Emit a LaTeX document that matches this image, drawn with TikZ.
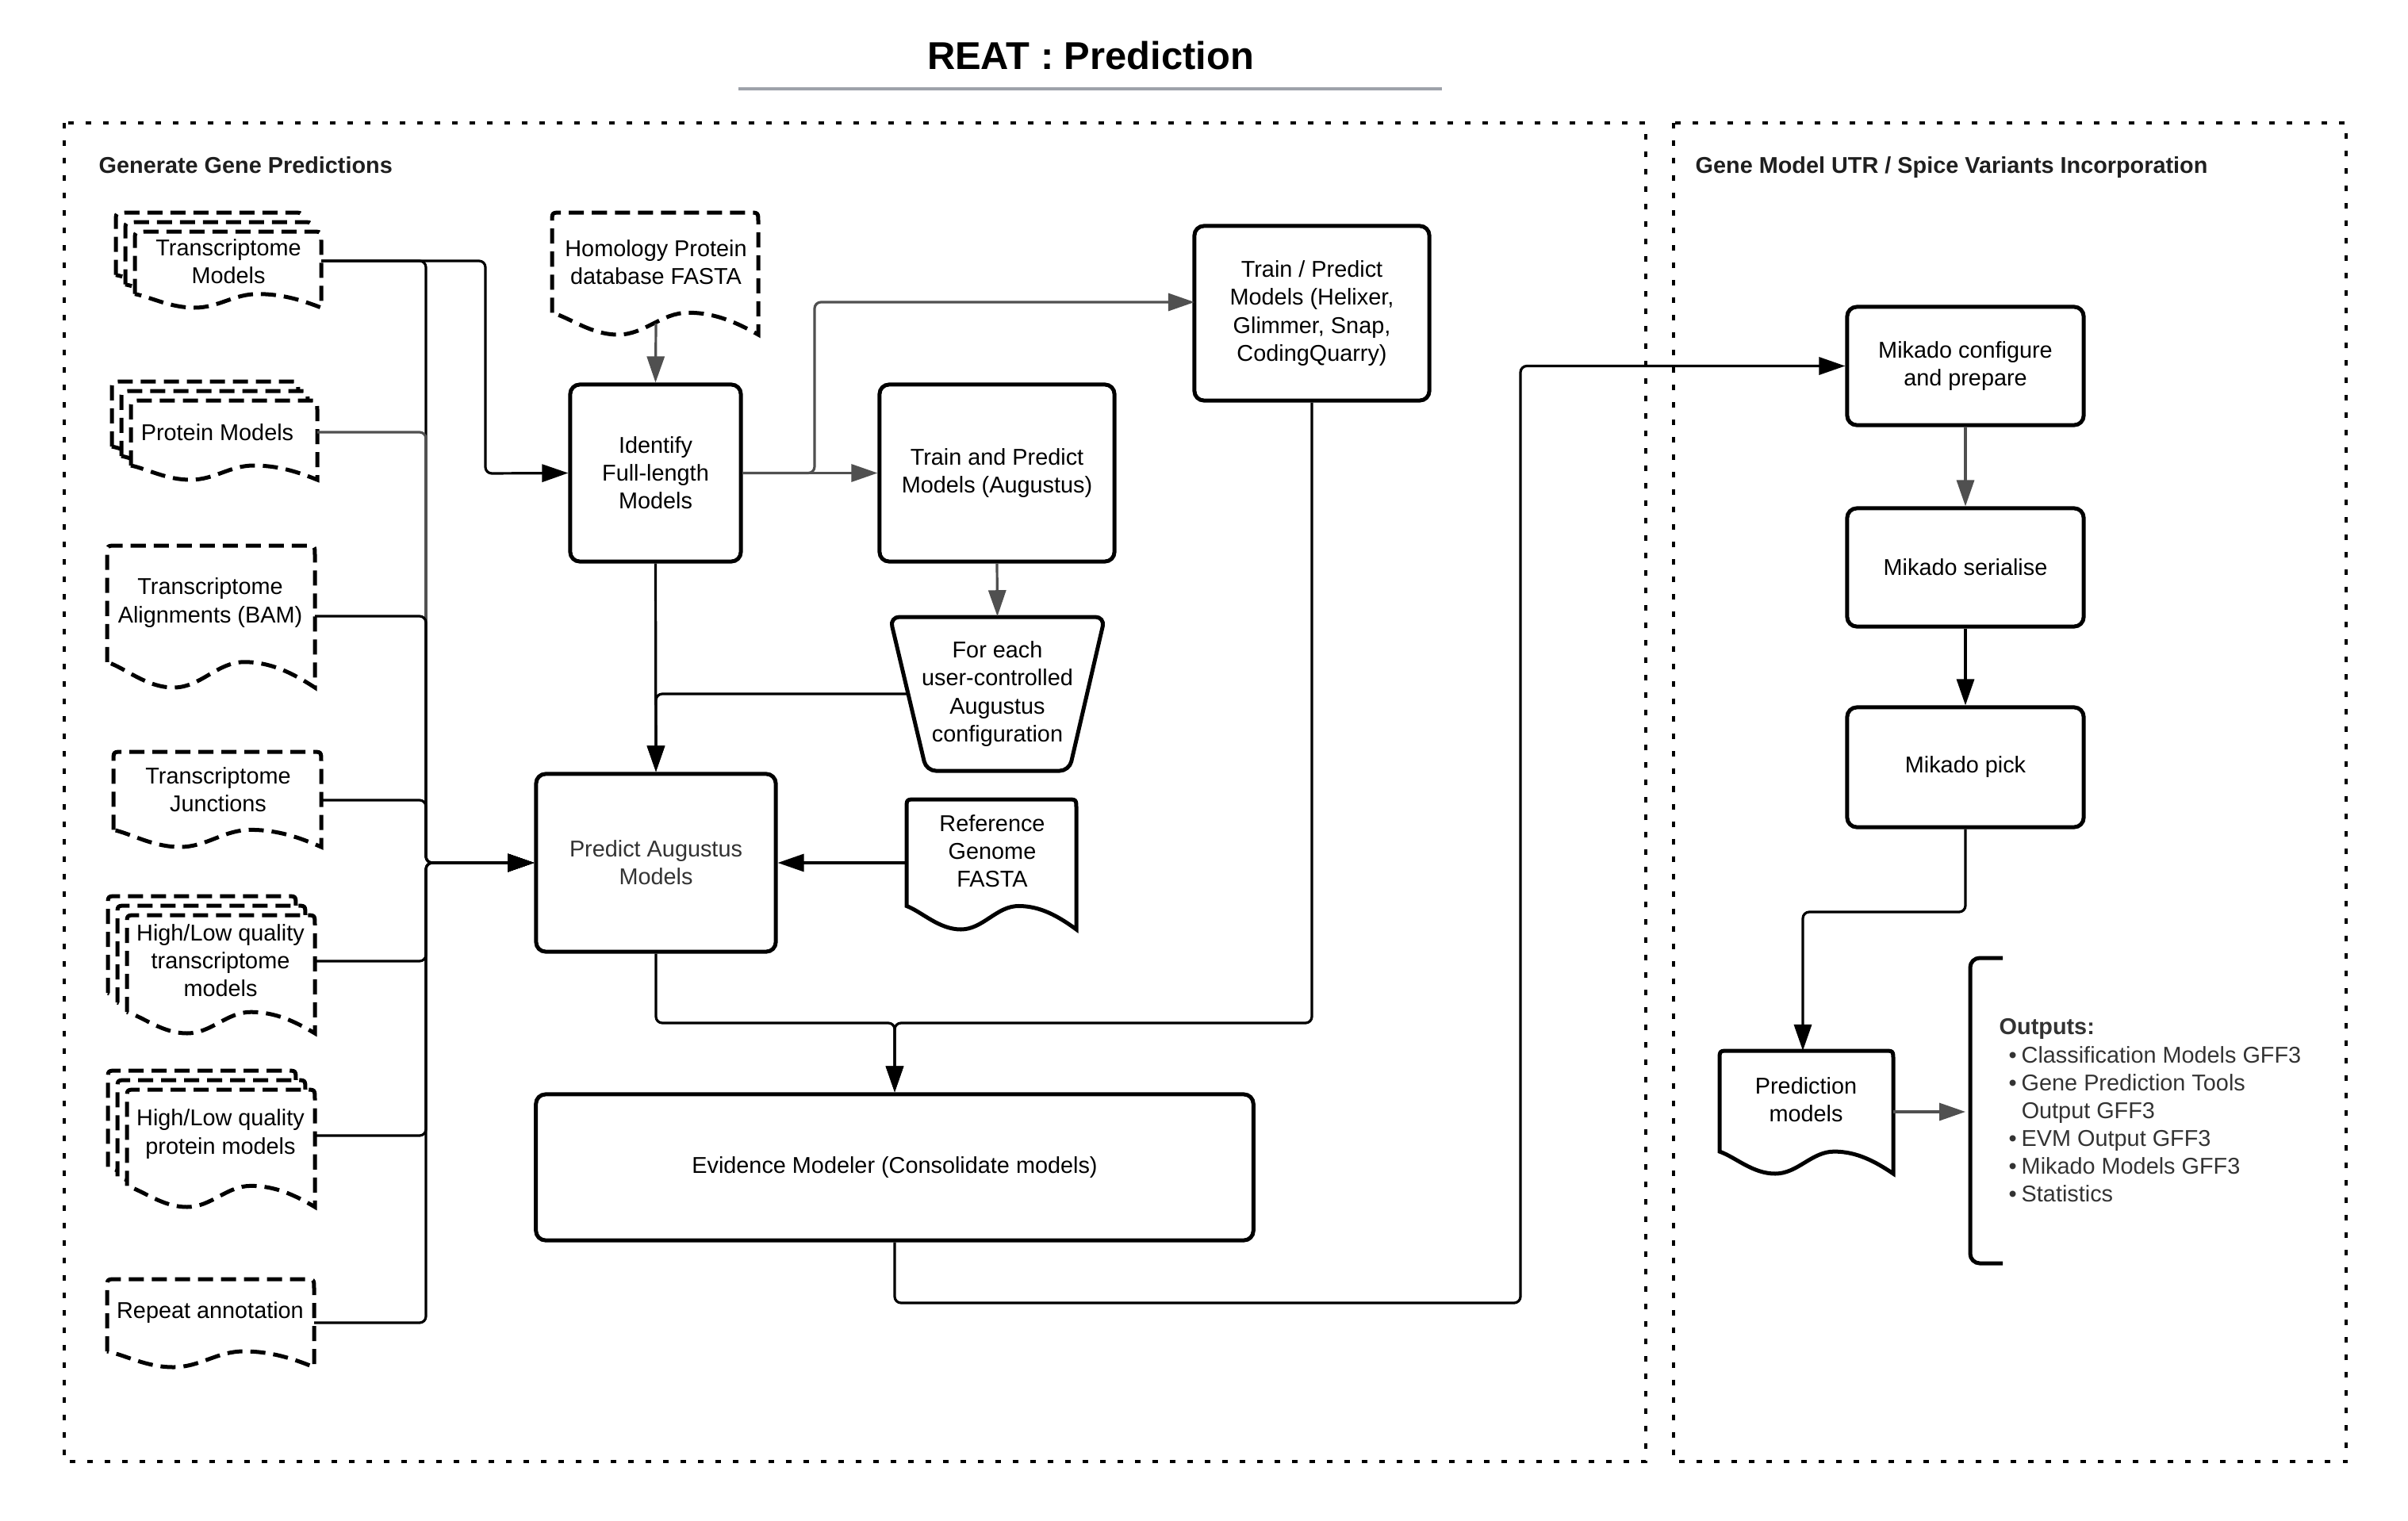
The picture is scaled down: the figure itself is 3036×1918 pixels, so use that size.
\documentclass[tikz,border=0pt]{standalone}
\usepackage{fontspec}
\setmainfont{Liberation Sans}
\usetikzlibrary{arrows.meta,calc}
\definecolor{gline}{HTML}{505050}
\definecolor{tgray}{HTML}{333333}
\definecolor{rulegray}{HTML}{9EA2AA}
\newcommand{\fs}{\fontsize{8.2}{10}\selectfont}
\newcommand{\docshape}[5][]{%
  \pgfmathsetmacro\dxa{#2}\pgfmathsetmacro\dya{#3}\pgfmathsetmacro\dxb{#4}\pgfmathsetmacro\dyb{#5}%
  \pgfmathsetmacro\dA{0.18*(\dyb-\dya)}%
  \pgfmathsetmacro\dw{\dxb-\dxa}%
  \pgfmathsetmacro\dyL{\dyb-\dA}%
  \pgfmathsetmacro\dxc{\dxa+0.66*\dw}%
  \pgfmathsetmacro\dxt{\dxa+0.32*\dw}%
  \pgfmathsetmacro\dd{0.13*\dw}%
  \draw[#1] (\dxa,\dyL) -- (\dxa,\dya+12) .. controls (\dxa,\dya) .. (\dxa+12,\dya)
    -- (\dxb-12,\dya) .. controls (\dxb,\dya) .. (\dxb,\dya+12) -- (\dxb,\dyb)
    .. controls (\dxb-0.8*\dd,\dyb-0.55*\dA) and (\dxc+\dd,\dyL) .. (\dxc,\dyL)
    .. controls (\dxc-\dd,\dyL) and (\dxt+\dd,\dyb) .. (\dxt,\dyb)
    .. controls (\dxt-\dd,\dyb) and (\dxa+0.7*\dd,\dyL+0.25*\dA) .. (\dxa,\dyL) -- cycle;
}
\newcommand{\multidoc}[5][]{%
  \docshape[#1]{(#2)-24}{(#3)-24}{(#4)-24}{(#5)-24}%
  \docshape[#1]{(#2)-12}{(#3)-12}{(#4)-12}{(#5)-12}%
  \docshape[#1]{#2}{#3}{#4}{#5}}
\tikzset{
  dashdoc/.style={draw=black, line width=0.05cm, dash pattern=on 0.19cm off 0.1cm, fill=white},
  soliddoc/.style={draw=black, line width=0.05cm, fill=white},
  txt/.style={align=center, inner sep=0, font=\fs},
  box/.style={draw, line width=0.05cm, rounded corners=0.12cm, align=center, inner sep=0, font=\fs, fill=white},
  region/.style={line width=0.04cm, dash pattern=on 0.07cm off 0.15cm},
  hdr/.style={anchor=base west, inner sep=0, font=\fontsize{8.2}{10}\selectfont\bfseries, text=black!88},
  conn/.style={line width=0.032cm, rounded corners=0.08cm},
  gconn/.style={conn, draw=gline},
  arr/.style={-{Triangle[length=0.33cm,width=0.22cm]}}
}
\begin{document}
\begin{tikzpicture}[x=0.01cm,y=-0.01cm]
\useasboundingbox (0,0) rectangle (3036,1918);

% title
\node[inner sep=0, font=\fontsize{13.9}{16}\selectfont\bfseries] (title) at (1375,70) {REAT : Prediction};
\coordinate (ulA) at (931,112);
\coordinate (ulB) at (1818,112);
\draw[rulegray, line width=0.045cm] (ulA) -- (ulB);

% regions
\draw[region] (81,155) rectangle (2075,1843);
\draw[region] (2110,155) rectangle (2958,1843);
\node[hdr] (h1) at (124,218) {Generate Gene Predictions};
\node[hdr] (h2) at (2137,218) {Gene Model UTR / Spice Variants Incorporation};

% input documents
\multidoc[dashdoc]{170}{292}{405}{388}
\node[txt] (tm) at (288,330) {Transcriptome\\Models};
\multidoc[dashdoc]{165}{505}{400}{605}
\node[txt] (pm) at (274,545) {Protein Models};
\docshape[dashdoc]{135}{688}{397}{867}
\node[txt] (ta) at (265,760) {Transcriptome\\Alignments (BAM)};
\docshape[dashdoc]{143}{948}{405}{1068}
\node[txt] (tj) at (275,996) {Transcriptome\\Junctions};
\multidoc[dashdoc]{160}{1154}{397}{1303}
\node[txt] (hlt) at (278,1211) {High/Low quality\\transcriptome\\models};
\multidoc[dashdoc]{160}{1374}{397}{1522}
\node[txt] (hlp) at (278,1430) {High/Low quality\\protein models};
\docshape[dashdoc]{135}{1613}{396}{1724}
\node[txt] (ra) at (265,1655) {Repeat annotation};

\docshape[dashdoc]{696}{268}{956}{422}
\node[txt] (hom) at (827,331) {Homology Protein\\database FASTA};
\docshape[soliddoc]{1143}{1008}{1357}{1172}
\node[txt] (rg) at (1251,1073) {Reference\\Genome\\FASTA};
\docshape[soliddoc]{2168}{1325}{2387}{1480}
\node[txt] (pred) at (2277,1387) {Prediction\\models};

% anchors on documents
\coordinate (tmOut) at (405,329);
\coordinate (pmOut) at (400,545);
\coordinate (taOut) at (397,777);
\coordinate (tjOut) at (405,1009);
\coordinate (hltOut) at (397,1212);
\coordinate (hlpOut) at (397,1432);
\coordinate (raOut) at (396,1668);
\coordinate (homOut) at (827,408);
\coordinate (rgIn) at (1143,1088);
\coordinate (predIn) at (2273,1325);
\coordinate (predOut) at (2387,1402);

% process boxes
\node[box, minimum width=2.15cm, minimum height=2.23cm] (id) at (826.5,596.5) {Identify\\Full-length\\Models};
\node[box, minimum width=2.96cm, minimum height=2.23cm] (tp) at (1257,596.5) {Train and Predict\\Models (Augustus)};
\node[box, minimum width=2.96cm, minimum height=2.20cm] (hx) at (1654,395) {Train / Predict\\Models (Helixer,\\Glimmer, Snap,\\CodingQuarry)};
\node[box, minimum width=3.02cm, minimum height=2.24cm, text=tgray] (pa) at (827,1088) {Predict Augustus\\Models};
\node[box, minimum width=9.04cm, minimum height=1.84cm] (ev) at (1128,1472) {Evidence Modeler (Consolidate models)};
\node[box, minimum width=2.98cm, minimum height=1.49cm] (mc) at (2478,461.5) {Mikado configure\\and prepare};
\node[box, minimum width=2.98cm, minimum height=1.49cm] (ms) at (2478,715.5) {Mikado serialise};
\node[box, minimum width=2.98cm, minimum height=1.51cm] (mp) at (2478,967.5) {Mikado pick};

% trapezoid
\draw[line width=0.05cm, rounded corners=0.12cm, fill=white] (1122,778) -- (1393,778) -- (1348,972) -- (1168,972) -- cycle;
\node[txt, minimum width=2.71cm, minimum height=1.94cm] (trap) at (1257.5,875) {For each\\user-controlled\\Augustus\\configuration};
\coordinate (trapW) at (1145,875);

% bracket and outputs
\coordinate (brIn) at (2478,1402);
\draw[line width=0.05cm, rounded corners=0.12cm] (2525,1208) -- (2484,1208) -- (2484,1593) -- (2525,1593);
\node[anchor=north west, align=left, inner sep=0, font=\fs, text=tgray] (outs) at (2520,1284) {\textbf{Outputs:}\\
\hspace*{0.12cm}\makebox[0.16cm][l]{•}Classification Models GFF3\\
\hspace*{0.12cm}\makebox[0.16cm][l]{•}Gene Prediction Tools\\
\hspace*{0.28cm}Output GFF3\\
\hspace*{0.12cm}\makebox[0.16cm][l]{•}EVM Output GFF3\\
\hspace*{0.12cm}\makebox[0.16cm][l]{•}Mikado Models GFF3\\
\hspace*{0.12cm}\makebox[0.16cm][l]{•}Statistics};

% bus junction
\coordinate (busJ) at (537,1088);
\coordinate (tmJ) at (612,597);
\coordinate (hxJ) at (1027,381);
\coordinate (hxIn) at (1506,381);
\coordinate (evJ) at (1128,1290);
\coordinate (evB) at (1917,1643);
\coordinate (mpJ) at (2273,1150);

% connectors into Predict Augustus
\draw[conn,arr] (tmOut) -| (busJ) -- (pa.west);
\draw[gconn,arr] (pmOut) -| (busJ) -- (pa.west);
\draw[conn,arr] (taOut) -| (busJ) -- (pa.west);
\draw[conn,arr] (tjOut) -| (busJ) -- (pa.west);
\draw[conn,arr] (hltOut) -| (busJ) -- (pa.west);
\draw[conn,arr] (hlpOut) -| (busJ) -- (pa.west);
\draw[conn,arr] (raOut) -| (busJ) -- (pa.west);
\draw[conn,arr] (tmOut) -| (tmJ) -- (id.west);

\draw[gconn,arr] (homOut) -- (id.north);
\draw[gconn,arr] (id.east) -- (tp.west);
\draw[gconn,arr] (id.east) -| (hxJ) -- (hxIn);
\draw[gconn,arr] (tp.south) -- (trap.north);
\draw[conn,arr] (id.south) -- (pa.north);
\draw[conn,arr] (trapW) -| (pa.north);
\draw[conn,arr] (rgIn) -- (pa.east);

\draw[conn,arr] (pa.south) |- (evJ) -- (ev.north);
\draw[conn,arr] (hx.south) |- (evJ) -- (ev.north);
\draw[conn,arr] (ev.south) |- (evB) |- (mc.west);

\draw[gconn,arr] (mc.south) -- (ms.north);
\draw[conn,arr] (ms.south) -- (mp.north);
\draw[conn,arr] (mp.south) |- (mpJ) -- (predIn);
\draw[gconn,arr] (predOut) -- (brIn);
\end{tikzpicture}
\end{document}
